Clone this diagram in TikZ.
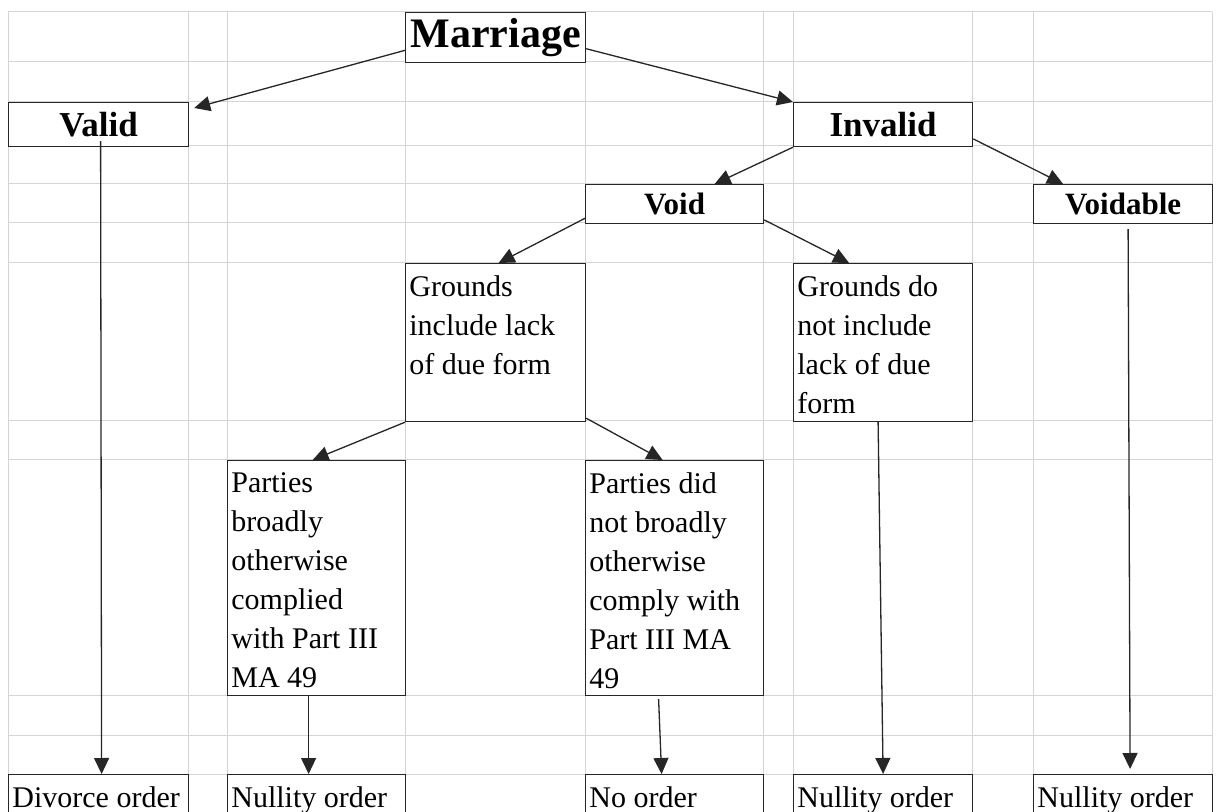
\documentclass[tikz,border=0pt]{standalone}
\usepackage{fontspec}
\setmainfont{Liberation Serif}
\usetikzlibrary{arrows.meta,calc}

\begin{document}
\begin{tikzpicture}[x=0.5pt,y=-0.5pt,
    grid/.style={draw=black!17,line width=0.5pt},
    cellbox/.style 2 args={draw=black!85,fill=white,line width=0.6pt,inner sep=0pt,
        anchor=north west,minimum width=#1,minimum height=#2},
    txt/.style={anchor=north west,align=left,inner xsep=2pt,inner ysep=6pt,
        font=\fontsize{15}{19.5}\selectfont},
    arr/.style={draw=black!85,line width=0.65pt,-{Triangle[length=8pt,width=7.5pt]}}]

    \path[use as bounding box] (0,0) rectangle (1216,812);
    \clip (0,0) rectangle (1216,812);
    \fill[white] (0,0) rectangle (1216,812);

    % Sheet grid
    \foreach \x in {8,188,227,405,585,763,793,972,1033,1212}
        \draw[grid] (\x,12) -- (\x,812);
    \foreach \y in {12,62,102,146,184,223,263,421,460,695,735,774}
        \draw[grid] (8,\y) -- (1212,\y);

    % Headings
    \node[cellbox={90pt}{25pt},font=\bfseries\fontsize{21}{25}\selectfont]
        (marriage) at (405,12) {Marriage};
    \node[cellbox={90pt}{22pt},font=\bfseries\fontsize{17.5}{21}\selectfont]
        (valid) at (8,102) {Valid};
    \node[cellbox={89.5pt}{22pt},font=\bfseries\fontsize{17.5}{21}\selectfont]
        (invalid) at (793,102) {Invalid};
    \node[cellbox={89pt}{19.5pt},font=\bfseries\fontsize{15.5}{19}\selectfont]
        (void) at (585,184) {Void};
    \node[cellbox={89.5pt}{19.5pt},font=\bfseries\fontsize{15.5}{19}\selectfont]
        (voidable) at (1033,184) {Voidable};

    % Grounds
    \node[cellbox={90pt}{79pt}] (incl) at (405,263) {};
    \node[txt] (incl-t) at (incl.north west) {Grounds\\include lack\\of due form};
    \node[cellbox={89.5pt}{79pt}] (notincl) at (793,263) {};
    \node[txt] (notincl-t) at (notincl.north west) {Grounds do\\not include\\lack of due\\form};

    % Compliance
    \node[cellbox={89pt}{117.5pt}] (broadly) at (227,460) {};
    \node[txt] (broadly-t) at (broadly.north west)
        {Parties\\broadly\\otherwise\\complied\\with Part III\\MA 49};
    \node[cellbox={89pt}{117.5pt}] (didnot) at (585,460) {};
    \node[txt] (didnot-t) at (didnot.north west)
        {Parties did\\not broadly\\otherwise\\comply with\\Part III MA\\49};

    % Orders
    \node[cellbox={90pt}{25pt}] (divorce) at (8,774) {};
    \node[txt] (divorce-t) at (divorce.north west) {Divorce order};
    \node[cellbox={89pt}{25pt}] (null1) at (227,774) {};
    \node[txt] (null1-t) at (null1.north west) {Nullity order};
    \node[cellbox={89pt}{25pt}] (noorder) at (585,774) {};
    \node[txt] (noorder-t) at (noorder.north west) {No order};
    \node[cellbox={89.5pt}{25pt}] (null2) at (793,774) {};
    \node[txt] (null2-t) at (null2.north west) {Nullity order};
    \node[cellbox={89.5pt}{25pt}] (null3) at (1033,774) {};
    \node[txt] (null3-t) at (null3.north west) {Nullity order};

    % Arrows
    \draw[arr] (marriage.188) -- ($(valid.north east)+(5,6)$);
    \draw[arr] (marriage.-7) -- (invalid.north west);
    \draw[arr] (invalid.south west) -- ($(void.north)+(40,0)$);
    \draw[arr] (invalid.-9) -- ($(voidable.north)+(-60,0)$);
    \draw[arr] (void.189) -- ($(incl.north)+(3,0)$);
    \draw[arr] (void.-10) -- ($(notincl.north)+(-34,0)$);
    \draw[arr] (incl.south west) -- ($(broadly.north)+(-4,0)$);
    \draw[arr] ($(incl.south east)+(0,-4)$) -- ($(didnot.north)+(-12,0)$);

    \draw[arr] ($(valid.south)+(2,-6)$) -- ($(divorce.north)+(3,0)$);
    \draw[arr] ($(broadly.south)+(-8,0)$) -- ($(null1.north)+(-8,0)$);
    \draw[arr] ($(didnot.south)+(-16,3)$) -- ($(noorder.north)+(-13,0)$);
    \draw[arr] ($(notincl.south)+(-5,0)$) -- (null2.north);
    \draw[arr] ($(voidable.south)+(5,5)$) -- ($(null3.north)+(7,-5)$);
\end{tikzpicture}
\end{document}
